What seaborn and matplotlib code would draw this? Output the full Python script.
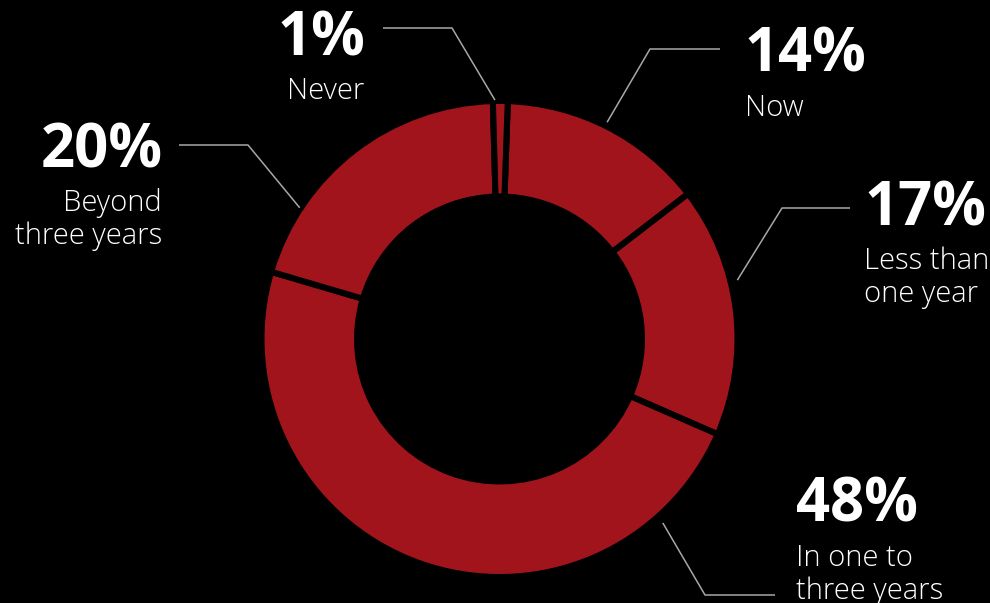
import numpy as np
import matplotlib
matplotlib.use("Agg")
import matplotlib.pyplot as plt
import seaborn as sns

# ---- data ----
categories = ["Now", "Less than\none year", "In one to\nthree years", "Beyond\nthree years", "Never"]
shares = [14, 17, 48, 20, 1]
pct_labels = ["14%", "17%", "48%", "20%", "1%"]

# ---- style ----
sns.set_style("dark", {"axes.facecolor": "black", "figure.facecolor": "black"})
plt.rcParams["font.family"] = ["Open Sans", "DejaVu Sans"]

RED = "#A2141C"
LINE = "#A8A8A8"
W, H = 990, 603
fig = plt.figure(figsize=(W / 100, H / 100), dpi=100, facecolor="black")
ax = fig.add_axes([0, 0, 1, 1])
ax.set_facecolor("black")

cx, cy = 499.5, H - 339
R_out, R_in = 235.0, 145.5
gap_pt = 4.4
pad = gap_pt * 100 / 72 / 2

ax.pie(shares, center=(cx, cy), radius=R_out + pad, startangle=88, counterclock=False,
       colors=[RED] * len(shares),
       wedgeprops=dict(width=(R_out + pad) - (R_in - pad), edgecolor="black", linewidth=gap_pt))

ax.set_xlim(0, W)
ax.set_ylim(0, H)
ax.set_aspect("equal")
ax.axis("off")

# ---- label layout (positions in pixel space, y from top) ----
# anchor angle on ring (deg), anchor radius, elbow point, end of horizontal, text x, align, pct baseline
layout = {
    "Now":   dict(ang=63.6, r=242, elbow=(650, 49), end=(720, 49), tx=745, ha="left", base=72),
    "Less":  dict(ang=13.9, r=245, elbow=(782, 208), end=(850, 208), tx=864, ha="left", base=225),
    "In":    dict(ang=-48.4, r=246, elbow=(705, 595), end=(775, 595), tx=796, ha="left", base=522),
    "Bey":   dict(ang=146.7, r=239, elbow=(248, 145), end=(179, 145), tx=163, ha="right", base=167),
    "Never": dict(ang=91.1, r=239, elbow=(452, 28), end=(383, 28), tx=365, ha="right", base=55),
}
keys = ["Now", "Less", "In", "Bey", "Never"]

for key, pct, cat in zip(keys, pct_labels, categories):
    L = layout[key]
    a = np.deg2rad(L["ang"])
    ax_x = cx + L["r"] * np.cos(a)
    ax_y = cy + L["r"] * np.sin(a)
    ex, ey = L["elbow"]
    hx, hy = L["end"]
    ax.plot([ax_x, ex, hx], [ax_y, H - ey, H - hy], color=LINE, lw=1.1, solid_capstyle="butt")
    ax.text(L["tx"], H - L["base"], pct, color="white", fontsize=43, fontweight="bold",
            ha=L["ha"], va="baseline")
    for i, line in enumerate(cat.split("\n")):
        ax.text(L["tx"] + (-1 if L["ha"] == "right" else 0), H - (L["base"] + 44 + i * 33), line,
                color="white", fontsize=21, fontweight="light", ha=L["ha"], va="baseline")

fig.savefig("out.png", dpi=100, facecolor="black")
